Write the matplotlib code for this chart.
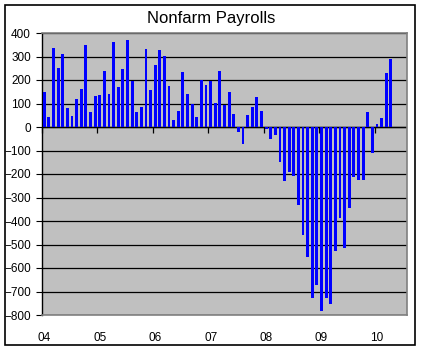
import matplotlib
matplotlib.use('Agg')
import matplotlib.pyplot as plt
from matplotlib.patches import Rectangle
import numpy as np

# monthly change in nonfarm payrolls (thousands), Jan 2004 - Apr 2010
payrolls = [149, 43, 336, 251, 311, 81, 47, 119, 162, 349, 64, 132,
            136, 238, 140, 362, 170, 247, 370, 196, 64, 85, 332, 157,
            264, 328, 302, 174, 30, 68, 234, 140, 98, 43, 200, 179,
            196, 102, 238, 94, 149, 55, -21, -72, 51, 85, 128, 68,
            -9, -51, -34, -149, -230, -191, -208, -332, -460, -554, -729, -674,
            -781, -729, -755, -529, -388, -516, -345, -214, -226, -226, 64, -111,
            13, 38, 230, 290]
year_labels = ['04', '05', '06', '07', '08', '09', '10']
n_slots = 79  # category axis runs a few months past the last bar

plt.rcParams['font.family'] = ['Liberation Sans', 'DejaVu Sans']

fig = plt.figure(figsize=(4.22, 3.51), dpi=100)
ax = fig.add_axes([42/422, 1-315/351, 365/422, 282/351])
ax.set_facecolor('#C0C0C0')

x = np.arange(len(payrolls))
ax.bar(x, payrolls, width=0.62, color='#0000FF', zorder=3)

ax.set_xlim(-0.5, n_slots - 0.5)
ax.set_ylim(-800, 400)
ax.set_yticks(range(-800, 401, 100))
ax.yaxis.grid(True, color='black', linewidth=0.9, zorder=1)
ax.tick_params(axis='y', labelsize=8.5, length=4, width=0.8, pad=4, direction='out')

# year labels under the January of each year
ax.set_xticks(range(0, 12*len(year_labels), 12))
ax.set_xticklabels(year_labels)
ax.tick_params(axis='x', labelsize=8.5, length=0, pad=12)

for s in ['top', 'right', 'bottom']:
    ax.spines[s].set_color('#808080')
    ax.spines[s].set_linewidth(1.2)
ax.spines['left'].set_color('black')
ax.spines['left'].set_linewidth(1.0)

# category axis crossing at zero with tick marks at year boundaries
ax.axhline(0, color='black', linewidth=1.0, zorder=2)
zero_pos = (0 - ax.get_ylim()[0]) / (ax.get_ylim()[1] - ax.get_ylim()[0])
sec = ax.secondary_xaxis(zero_pos)
sec.xaxis.set_ticks_position('bottom')
sec.set_xticks(np.arange(-0.5, len(payrolls), 12))
sec.set_xticklabels([])
sec.tick_params(axis='x', length=4, width=0.9, direction='out', color='black',
                bottom=True, top=False)
sec.spines['bottom'].set_visible(False)
sec.spines['top'].set_visible(False)
sec.set_zorder(4)

fig.text(0.5, 1-18/351, 'Nonfarm Payrolls', ha='center', va='center', fontsize=12)

fig.patches.append(Rectangle((5/422, 1-345/351), 410/422, 340/351,
                             transform=fig.transFigure, fill=False,
                             edgecolor='black', linewidth=1.2))

fig.savefig('out.png', dpi=100)
